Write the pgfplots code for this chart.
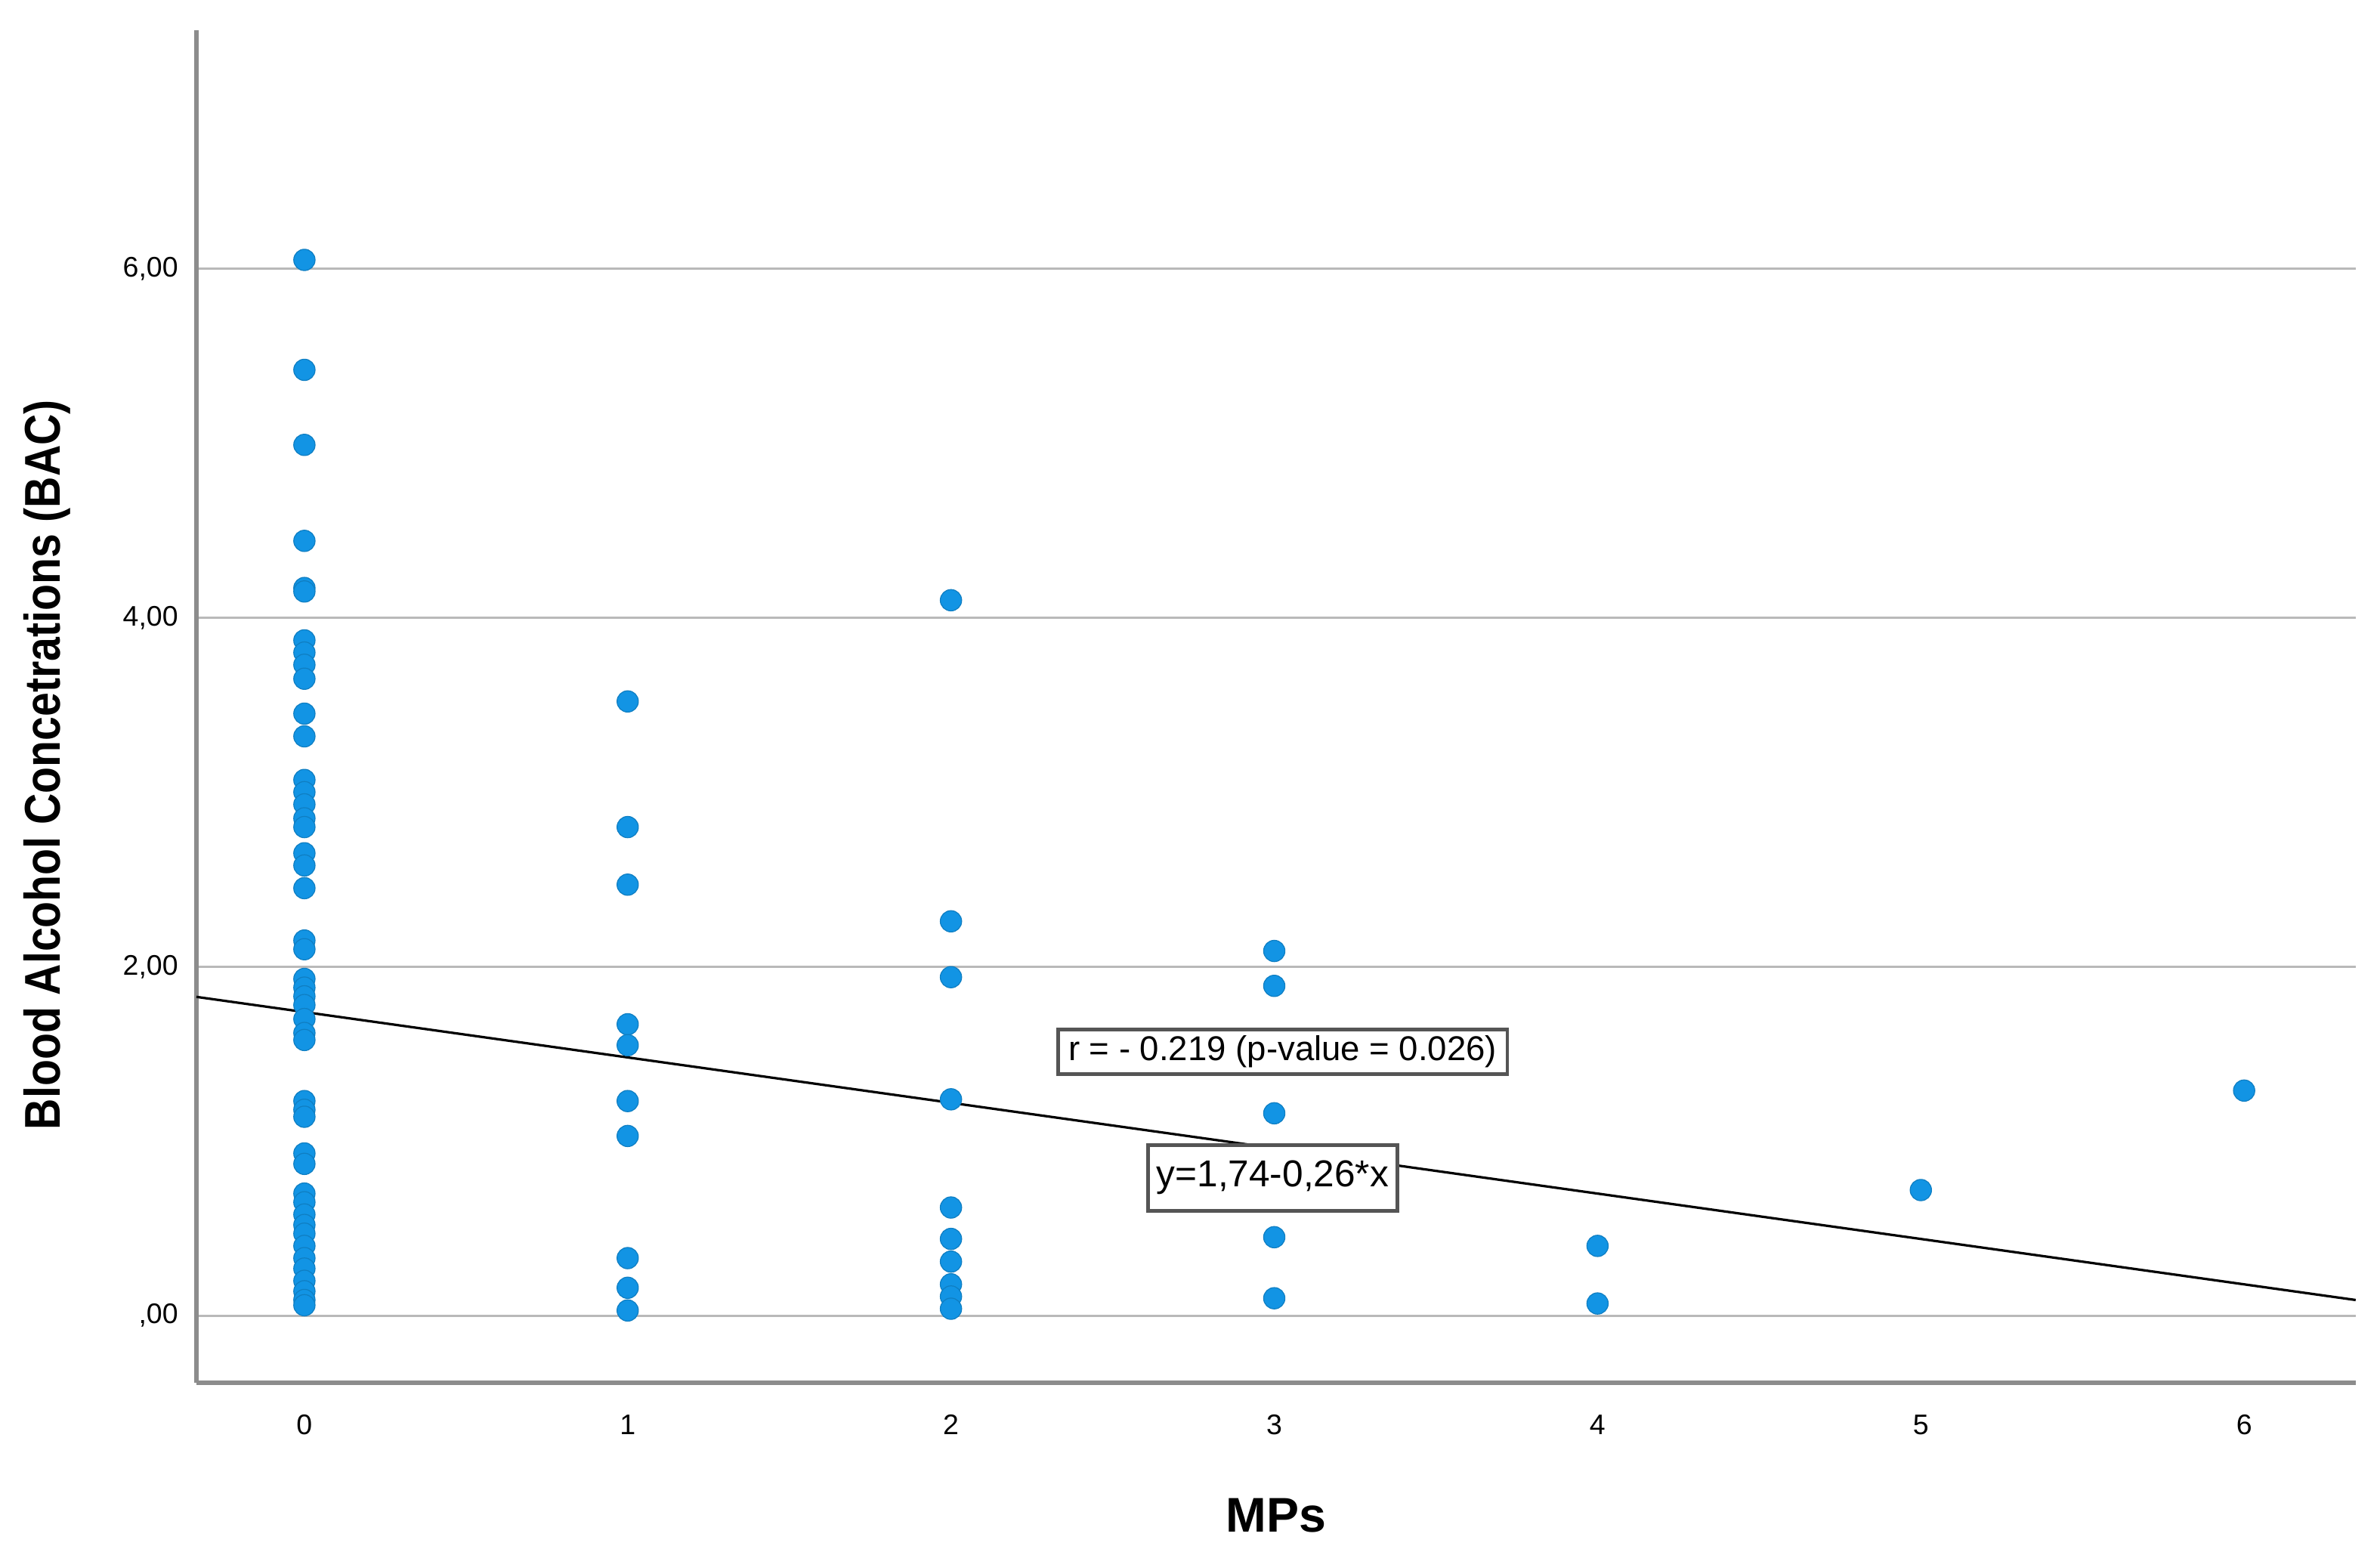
\documentclass[border=0pt]{standalone}
\usepackage{pgfplots}
\pgfplotsset{compat=1.18}
\usepackage{fontspec}
\setmainfont{Liberation Sans}
\newfontfamily\narrowsans[FakeStretch=0.86]{Liberation Sans}
\definecolor{spssblue}{RGB}{18,148,228}
\definecolor{gridgray}{RGB}{185,185,185}
\definecolor{spinegray}{RGB}{140,140,140}
\definecolor{boxgray}{RGB}{85,85,85}
\begin{document}
\begin{tikzpicture}
\begin{axis}[
  scale only axis,
  width=709pt, height=444pt,
  xmin=-0.334, xmax=6.345,
  ymin=-0.384, ymax=7.365,
  axis x line=bottom, axis y line=left,
  axis line style={-, spinegray, line width=1.3pt},
  xtick={0,1,2,3,4,5,6},
  xticklabels={0,1,2,3,4,5,6},
  ytick={0,2,4,6},
  yticklabels={{,00},{2,00},{4,00},{6,00}},
  major tick length=0pt,
  ymajorgrids, xmajorgrids=false,
  grid style={gridgray, line width=0.8pt},
  tick label style={font=\fontsize{9.3}{11}\selectfont, black},
  yticklabel style={xshift=-2.5pt},
  xticklabel style={yshift=-7pt},
  /pgf/number format/assume math mode=true,
  every axis y label/.style={at={(axis description cs:0,0.457)}, rotate=90, anchor=center, yshift=49pt},
  every axis x label/.style={at={(axis description cs:0.5,0)}, anchor=center, yshift=-43.5pt},
  ylabel={\narrowsans\bfseries\fontsize{16.5}{19}\selectfont Blood Alcohol Concetrations (BAC)},
  xlabel={\bfseries\fontsize{16}{19}\selectfont MPs},
  clip=false,
]
\addplot[black, line width=0.8pt] coordinates {(-0.334,1.827) (6.345,0.090)};
\addplot[only marks, mark=*, mark size=3.5pt,
  mark options={fill=spssblue, draw=spssblue!85!black, line width=0.3pt}] coordinates {
(0,6.05) (0,5.42) (0,4.99) (0,4.44) (0,4.17) (0,4.15) (0,3.87) (0,3.80) (0,3.73) (0,3.65)
(0,3.45) (0,3.32) (0,3.07) (0,3.00) (0,2.93) (0,2.85) (0,2.80) (0,2.65) (0,2.58) (0,2.45)
(0,2.15) (0,2.10) (0,1.93) (0,1.88) (0,1.83) (0,1.78) (0,1.70) (0,1.62) (0,1.58) (0,1.23)
(0,1.18) (0,1.14) (0,0.93) (0,0.87) (0,0.70) (0,0.65) (0,0.58) (0,0.52) (0,0.47) (0,0.40)
(0,0.33) (0,0.27) (0,0.20) (0,0.14) (0,0.09) (0,0.06)
(1,3.52) (1,2.80) (1,2.47) (1,1.67) (1,1.55) (1,1.23) (1,1.03) (1,0.33) (1,0.16) (1,0.03)
(2,4.10) (2,2.26) (2,1.94) (2,1.24) (2,0.62) (2,0.44) (2,0.31) (2,0.18) (2,0.11) (2,0.04)
(3,2.09) (3,1.89) (3,1.16) (3,0.45) (3,0.10)
(4,0.40) (4,0.07)
(5,0.72)
(6,1.29)
};
\node[draw=boxgray, line width=1.2pt, fill=white, minimum width=147.5pt, minimum height=14.75pt, inner sep=0pt,
  font=\fontsize{11.3}{13}\selectfont] at (axis cs:3.026,1.512) {r = - 0.219 (p-value = 0.026)};
\node[draw=boxgray, line width=1.2pt, fill=white, minimum width=82pt, minimum height=21.5pt, inner sep=0pt,
  font=\fontsize{12.3}{14}\selectfont] at (axis cs:2.995,0.79) {y=1,74-0,26*x};
\coordinate (ll) at (rel axis cs:0,0);
\coordinate (ur) at (rel axis cs:1,1);
\end{axis}
\path ([xshift=-64.5pt,yshift=-54.5pt]ll) rectangle ([xshift=8pt,yshift=10pt]ur);
\end{tikzpicture}
\end{document}
